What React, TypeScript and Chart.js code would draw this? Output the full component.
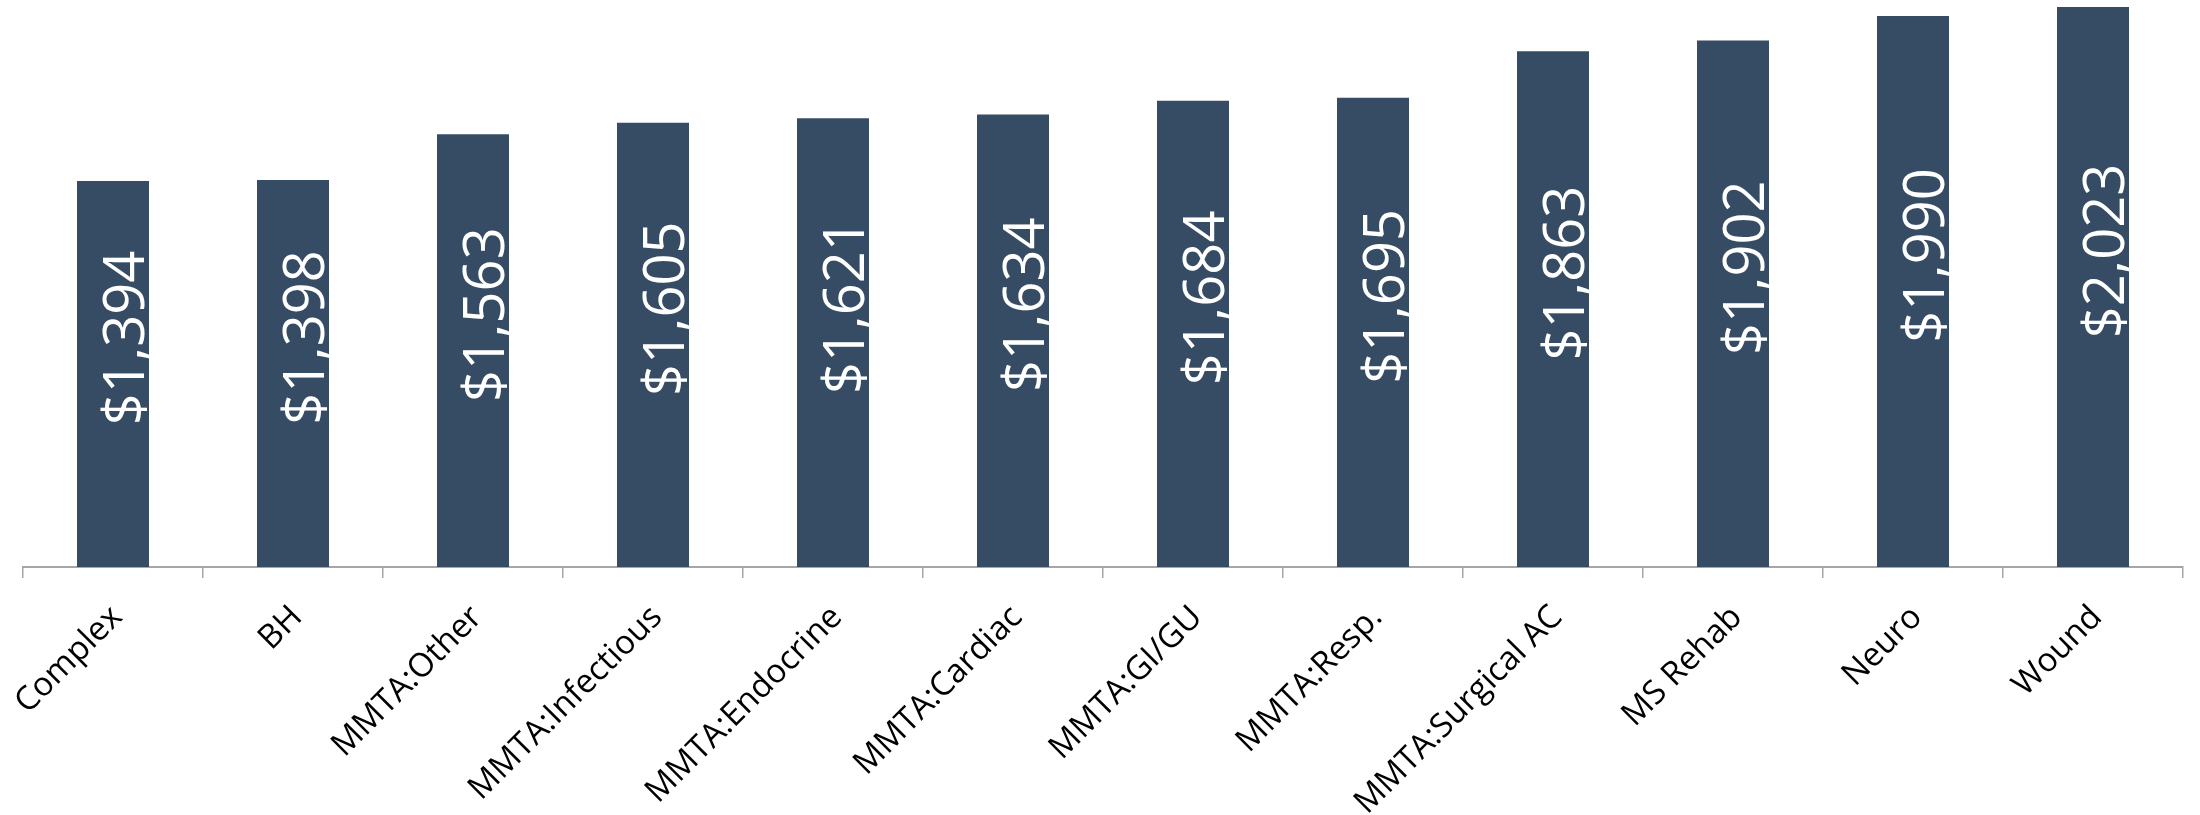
import React, { useEffect, useRef } from "react";
import { Chart, registerables } from "chart.js";

Chart.register(...registerables);

const categories: string[] = [
  "Complex",
  "BH",
  "MMTA:Other",
  "MMTA:Infectious",
  "MMTA:Endocrine",
  "MMTA:Cardiac",
  "MMTA:GI/GU",
  "MMTA:Resp.",
  "MMTA:Surgical AC",
  "MS Rehab",
  "Neuro",
  "Wound",
];

const values: number[] = [1394, 1398, 1563, 1605, 1621, 1634, 1684, 1695, 1863, 1902, 1990, 2023];

const yMin = 0;
const yMax = 2048;

const BAR_COLOR = "#364C64";
const AXIS_COLOR = "#A6A6A6";
const FONT = "'Open Sans', 'Noto Sans', sans-serif";

const fmt = (v: number) => "$" + v.toLocaleString("en-US");

const barLabelPlugin = {
  id: "barLabels",
  afterDatasetsDraw(chart: any) {
    const ctx = chart.ctx as CanvasRenderingContext2D;
    const meta = chart.getDatasetMeta(0);
    ctx.save();
    ctx.fillStyle = "#FFFFFF";
    ctx.font = `56px ${FONT}`;
    ctx.textAlign = "center";
    ctx.textBaseline = "alphabetic";
    meta.data.forEach((bar: any, i: number) => {
      const { x, y, base } = bar.getProps(["x", "y", "base"], true);
      const cy = (y + base) / 2 - 36;
      ctx.save();
      ctx.translate(x, cy);
      ctx.rotate(-Math.PI / 2);
      ctx.fillText(fmt(values[i]), 0, 31);
      ctx.restore();
    });
    ctx.restore();
  },
};

export default function App() {
  const canvasRef = useRef<HTMLCanvasElement | null>(null);

  useEffect(() => {
    if (!canvasRef.current) return;
    const chart = new Chart(canvasRef.current, {
      type: "bar",
      data: {
        labels: categories,
        datasets: [
          {
            data: values,
            backgroundColor: BAR_COLOR,
            borderWidth: 0,
            barPercentage: 0.4,
            categoryPercentage: 1.0,
          },
        ],
      },
      options: {
        animation: false,
        responsive: false,
        maintainAspectRatio: false,
        layout: { padding: { left: 23, right: 17, top: 0, bottom: 0 } },
        plugins: {
          legend: { display: false },
          tooltip: { enabled: false },
        },
        scales: {
          x: {
            offset: true,
            grid: {
              display: true,
              offset: true,
              drawOnChartArea: false,
              drawTicks: true,
              tickLength: 11,
              color: AXIS_COLOR,
              lineWidth: 1.5,
            },
            border: { display: true, color: AXIS_COLOR, width: 2 },
            ticks: {
              autoSkip: false,
              minRotation: 45,
              maxRotation: 45,
              color: "#000000",
              padding: 20,
              labelOffset: 4,
              font: { family: FONT, size: 33 },
            },
            afterFit: (scale: any) => {
              scale.height = 248;
              scale.paddingLeft = 0;
              scale.paddingRight = 0;
            },
          },
          y: {
            display: false,
            min: yMin,
            max: yMax,
          },
        },
      },
      plugins: [barLabelPlugin],
    });
    return () => chart.destroy();
  }, []);

  return (
    <div style={{ position: "fixed", left: 0, top: 0, width: 2200, height: 815, background: "#fff" }}>
      <canvas ref={canvasRef} width={2200} height={815} style={{ display: "block", width: 2200, height: 815 }} />
    </div>
  );
}
